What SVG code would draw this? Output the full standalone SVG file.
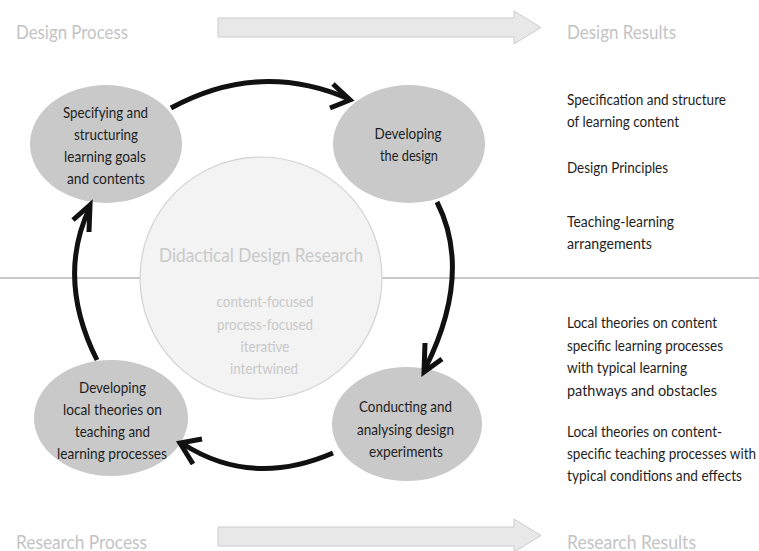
<svg xmlns="http://www.w3.org/2000/svg" width="759" height="551" viewBox="0 0 759 551">
<style>
text{font-family:Lato,"Open Sans","Liberation Sans",sans-serif;}
.hdr{font-size:19.5px;fill:#c4c4c4;}
.node{fill:#c9c9c9;}
.nt{font-size:16px;fill:#1e1e1e;text-anchor:middle;}
.rt{font-size:15.5px;fill:#1e1e1e;}
.ct{font-size:15px;fill:#c9c9c9;text-anchor:middle;}
.big{fill:#e8e8e8;stroke:#cccccc;stroke-width:1;}
.conn{fill:none;stroke:#111;stroke-width:5;stroke-linejoin:miter;}
</style>
<rect width="759" height="551" fill="#fff"/>
<g id="headers">
<text class="hdr" x="16" y="39" textLength="112" lengthAdjust="spacingAndGlyphs">Design Process</text>
<text class="hdr" x="567" y="39" textLength="109" lengthAdjust="spacingAndGlyphs">Design Results</text>
<text class="hdr" x="16" y="549" textLength="131" lengthAdjust="spacingAndGlyphs">Research Process</text>
<text class="hdr" x="567" y="549" textLength="129" lengthAdjust="spacingAndGlyphs">Research Results</text>
<path class="big" d="M218,18 H514 V11 L541,27.5 L514,44 V37 H218 Z"/>
<path class="big" d="M218,527 H514 V519 L541,535.5 L514,552 V546 H218 Z"/>
</g>
<line x1="0" y1="278" x2="759" y2="278" stroke="#c8c8c8" stroke-width="2"/>
<g id="ddr">
<circle cx="261" cy="278" r="121" fill="#f3f3f3" stroke="#d2d2d2" stroke-width="1.2"/>
<text x="261" y="262" font-size="19.5" fill="#c9c9c9" text-anchor="middle" textLength="204" lengthAdjust="spacingAndGlyphs">Didactical Design Research</text>
<text class="ct" x="265" y="307" textLength="97" lengthAdjust="spacingAndGlyphs">content-focused</text>
<text class="ct" x="265" y="330" textLength="96" lengthAdjust="spacingAndGlyphs">process-focused</text>
<text class="ct" x="265" y="352" textLength="49" lengthAdjust="spacingAndGlyphs">iterative</text>
<text class="ct" x="264" y="374" textLength="68" lengthAdjust="spacingAndGlyphs">intertwined</text>
</g>
<g id="n1">
<ellipse class="node" cx="106" cy="144" rx="76" ry="59"/>
<text class="nt" x="105.5" y="118" textLength="85" lengthAdjust="spacingAndGlyphs">Specifying and</text>
<text class="nt" x="106" y="140" textLength="64" lengthAdjust="spacingAndGlyphs">structuring</text>
<text class="nt" x="105" y="162" textLength="82" lengthAdjust="spacingAndGlyphs">learning goals</text>
<text class="nt" x="106" y="184" textLength="78" lengthAdjust="spacingAndGlyphs">and contents</text>
</g>
<g id="n2">
<ellipse class="node" cx="409" cy="144" rx="76" ry="59"/>
<text class="nt" x="408" y="139" textLength="67" lengthAdjust="spacingAndGlyphs">Developing</text>
<text class="nt" x="409" y="161" textLength="58" lengthAdjust="spacingAndGlyphs">the design</text>
</g>
<g id="n3">
<ellipse class="node" cx="407" cy="424" rx="75" ry="57"/>
<text class="nt" x="405.5" y="412" textLength="93" lengthAdjust="spacingAndGlyphs">Conducting and</text>
<text class="nt" x="405.5" y="435" textLength="97" lengthAdjust="spacingAndGlyphs">analysing design</text>
<text class="nt" x="406" y="457" textLength="74" lengthAdjust="spacingAndGlyphs">experiments</text>
</g>
<g id="n4">
<ellipse class="node" cx="111" cy="418" rx="77" ry="58"/>
<text class="nt" x="112.5" y="393" textLength="67" lengthAdjust="spacingAndGlyphs">Developing</text>
<text class="nt" x="112.5" y="415" textLength="99" lengthAdjust="spacingAndGlyphs">local theories on</text>
<text class="nt" x="112.5" y="437" textLength="75" lengthAdjust="spacingAndGlyphs">teaching and</text>
<text class="nt" x="112" y="459" textLength="110" lengthAdjust="spacingAndGlyphs">learning processes</text>
</g>
<g id="connectors">
<path class="conn" d="M171,108 Q259,60 349,99"/>
<path class="conn" d="M333,84 L350,100 L330,108"/>
<path class="conn" d="M437,202 Q473,273 425,369"/>
<path class="conn" d="M425,343 L424,372 L442,359"/>
<path class="conn" d="M333,453 Q252,488 183,444"/>
<path class="conn" d="M202,439 L180,443 L193,464"/>
<path class="conn" d="M97,360 Q56,278 90,207"/>
<path class="conn" d="M73,220 L90,205 L89,232"/>
</g>
<g id="results">
<text class="rt" x="567" y="105" textLength="159" lengthAdjust="spacingAndGlyphs">Specification and structure</text>
<text class="rt" x="567" y="127" textLength="112" lengthAdjust="spacingAndGlyphs">of learning content</text>
<text class="rt" x="567" y="173" textLength="101" lengthAdjust="spacingAndGlyphs">Design Principles</text>
<text class="rt" x="567" y="227" textLength="107" lengthAdjust="spacingAndGlyphs">Teaching-learning</text>
<text class="rt" x="567" y="249" textLength="85" lengthAdjust="spacingAndGlyphs">arrangements</text>
<text class="rt" x="567" y="328" textLength="150" lengthAdjust="spacingAndGlyphs">Local theories on content</text>
<text class="rt" x="567" y="351" textLength="156" lengthAdjust="spacingAndGlyphs">specific learning processes</text>
<text class="rt" x="567" y="373" textLength="120" lengthAdjust="spacingAndGlyphs">with typical learning</text>
<text class="rt" x="567" y="396" textLength="150" lengthAdjust="spacingAndGlyphs">pathways and obstacles</text>
<text class="rt" x="567" y="437" textLength="155" lengthAdjust="spacingAndGlyphs">Local theories on content-</text>
<text class="rt" x="567" y="459" textLength="189" lengthAdjust="spacingAndGlyphs">specific teaching processes with</text>
<text class="rt" x="567" y="481" textLength="175" lengthAdjust="spacingAndGlyphs">typical conditions and effects</text>
</g>
</svg>
